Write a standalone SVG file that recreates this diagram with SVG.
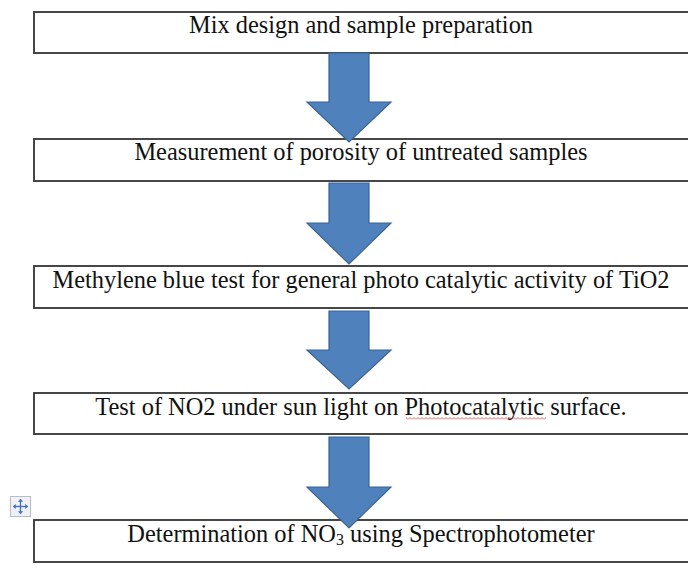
<svg xmlns="http://www.w3.org/2000/svg" width="688" height="568" viewBox="0 0 688 568">
  <style>
    .box { fill: #ffffff; stroke: #333333; stroke-width: 1.8; }
    .label { font-family: "Liberation Serif", "Times New Roman", serif; font-size: 24.4px; fill: #111111; text-anchor: middle; }
    .arrow { fill: #4F81BD; stroke: #3A6494; stroke-width: 1.2; stroke-linejoin: miter; }
  </style>
  <defs>
    <pattern id="squiggle" x="0" y="0" width="4" height="3" patternUnits="userSpaceOnUse">
      <path d="M0 2.5 L2 0.5 L4 2.5" fill="none" stroke="#e03030" stroke-width="0.8"/>
    </pattern>
  </defs>
  <rect width="688" height="568" fill="#ffffff"/>

  <g id="step1">
    <rect class="box" x="34" y="12" width="660" height="41"/>
    <text class="label" x="361" y="33">Mix design and sample preparation</text>
  </g>
  <g id="step2">
    <rect class="box" x="34" y="139" width="660" height="42"/>
    <text class="label" x="361" y="160">Measurement of porosity of untreated samples</text>
  </g>
  <g id="step3">
    <rect class="box" x="34" y="266" width="660" height="42"/>
    <text class="label" x="361" y="288">Methylene blue test for general photo catalytic activity of TiO2</text>
  </g>
  <g id="step4">
    <rect class="box" x="34" y="393" width="660" height="41"/>
    <text class="label" x="361" y="415">Test of NO2 under sun light on Photocatalytic surface.</text>
    <!-- spell-check squiggle under "Photocatalytic" -->
    <rect x="406" y="417" width="140" height="3" fill="url(#squiggle)"/>
  </g>
  <g id="step5">
    <rect class="box" x="34" y="520" width="660" height="42"/>
    <text class="label" x="361" y="542">Determination of NO<tspan font-size="16" dy="3">3</tspan><tspan dy="-3"> using Spectrophotometer</tspan></text>
  </g>

  <g id="connectors">
    <polygon class="arrow" points="329,53 369,53 369,102 391,102 349,142 307,102 329,102"/>
    <polygon class="arrow" points="329,183 369,183 369,223 391,223 349,264 307,223 329,223"/>
    <polygon class="arrow" points="329,311 369,311 369,350 391,350 349,389 307,350 329,350"/>
    <polygon class="arrow" points="329,437 369,437 369,487 391,487 349,528 307,487 329,487"/>
  </g>

  <!-- table move handle -->
  <g id="move-handle">
    <rect x="10.5" y="496.5" width="20" height="20" fill="#eef1f5" stroke="#b8bcc4" stroke-width="1"/>
    <g stroke="#3f6fc6" stroke-width="1.3" fill="#3f6fc6">
      <line x1="20.5" y1="500" x2="20.5" y2="513"/>
      <line x1="14" y1="506.5" x2="27" y2="506.5"/>
      <polygon points="20.5,499 18.5,501.5 22.5,501.5" stroke-width="0.5"/>
      <polygon points="20.5,514 18.5,511.5 22.5,511.5" stroke-width="0.5"/>
      <polygon points="13,506.5 15.5,504.5 15.5,508.5" stroke-width="0.5"/>
      <polygon points="28,506.5 25.5,504.5 25.5,508.5" stroke-width="0.5"/>
    </g>
  </g>
</svg>
